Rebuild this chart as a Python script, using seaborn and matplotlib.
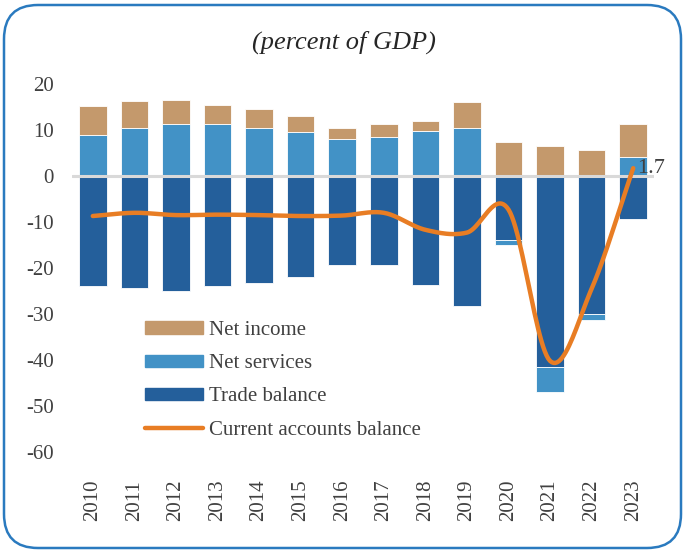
import numpy as np
import pandas as pd
import matplotlib.pyplot as plt
import seaborn as sns
from matplotlib.patches import FancyBboxPatch, Patch
from matplotlib.lines import Line2D

# values (percent of GDP)
years = ['2010', '2011', '2012', '2013', '2014', '2015', '2016',
         '2017', '2018', '2019', '2020', '2021', '2022', '2023']
trade_balance = [-24.0, -24.3, -25.1, -23.9, -23.2, -21.9, -19.3,
                 -19.3, -23.8, -28.2, -14.0, -41.6, -29.9, -9.3]
net_services = [8.9, 10.4, 11.3, 11.2, 10.4, 9.5, 8.0,
                8.5, 9.8, 10.4, -1.0, -5.3, -1.5, 4.1]
net_income = [6.3, 5.9, 5.2, 4.2, 4.1, 3.5, 2.5,
              2.7, 2.2, 5.6, 7.5, 6.5, 5.7, 7.1]
current_account = [-8.7, -8.0, -8.5, -8.4, -8.5, -8.7, -8.6,
                   -8.0, -11.7, -12.3, -7.3, -40.2, -24.5, 1.7]

c_income = '#C4996C'
c_services = '#4292C6'
c_trade = '#245F9B'
c_line = '#E87D24'
c_text = '#404040'
serif = 'Liberation Serif'


def smooth_line(xs, ys, steps=24):
    # Catmull-Rom curve through the points, like Excel's smoothed line
    x = np.asarray(xs, float)
    y = np.asarray(ys, float)
    px = np.concatenate([[2 * x[0] - x[1]], x, [2 * x[-1] - x[-2]]])
    py = np.concatenate([[2 * y[0] - y[1]], y, [2 * y[-1] - y[-2]]])
    outx, outy = [], []
    t = np.linspace(0, 1, steps, endpoint=False)
    for i in range(1, len(px) - 2):
        for p, out in ((px, outx), (py, outy)):
            p0, p1, p2, p3 = p[i - 1], p[i], p[i + 1], p[i + 2]
            out.extend(0.5 * (2 * p1 + (-p0 + p2) * t
                              + (2 * p0 - 5 * p1 + 4 * p2 - p3) * t ** 2
                              + (-p0 + 3 * p1 - 3 * p2 + p3) * t ** 3))
    outx.append(x[-1])
    outy.append(y[-1])
    return np.array(outx), np.array(outy)


sns.set_theme(style='white')
plt.rcParams['font.family'] = [serif, 'DejaVu Serif']
plt.rcParams['axes.unicode_minus'] = False

df = pd.DataFrame({'year': years, 'trade': trade_balance,
                   'services': net_services, 'income': net_income,
                   'ca': current_account})
df['services_bottom'] = np.where(df['services'] >= 0, 0, df['trade'])
df['income_bottom'] = df['services'].clip(lower=0)

fig = plt.figure(figsize=(6.85, 5.52), dpi=100)

# rounded frame around the whole figure
bg = fig.add_axes([0, 0, 1, 1])
bg.set_xlim(0, 685)
bg.set_ylim(0, 552)
bg.axis('off')
bg.add_patch(FancyBboxPatch((4, 4), 677, 543,
                            boxstyle='round,pad=0,rounding_size=34',
                            fc='white', ec='#2A7ABF', lw=1.8))

ax = fig.add_axes([72 / 685, 1 - 452 / 552, 582 / 685, 368 / 552])
ax.patch.set_alpha(0)

bar_kw = dict(width=0.66, edgecolor='white', linewidth=0.6, ax=ax)
sns.barplot(data=df, x='year', y='trade', color=c_trade, saturation=1, **bar_kw)
sns.barplot(data=df, x='year', y='services', bottom=df['services_bottom'],
            color=c_services, saturation=1, **bar_kw)
sns.barplot(data=df, x='year', y='income', bottom=df['income_bottom'],
            color=c_income, saturation=1, **bar_kw)

ax.axhline(0, color='#D9D9D9', lw=2.2, zorder=3)

sx, sy = smooth_line(range(len(years)), current_account)
sns.lineplot(x=sx, y=sy, sort=False, estimator=None, color=c_line,
             lw=3.2, ax=ax, zorder=4)
ax.text(len(years) - 1 + 0.1, current_account[-1], f'{current_account[-1]:.1f}',
        ha='left', va='center', fontsize=16, color=c_text, zorder=5)

ax.set_xlim(-0.5, len(years) - 0.5)
ax.set_ylim(-60, 20)
ax.set_yticks(range(-60, 21, 10))
ax.set_xlabel('')
ax.set_ylabel('')
sns.despine(ax=ax, left=True, bottom=True)
ax.tick_params(axis='y', length=0, pad=13, labelsize=15, labelcolor=c_text)
ax.tick_params(axis='x', length=0, pad=20, labelsize=15, labelcolor=c_text,
               labelrotation=90)

handles = [Patch(color=c_income), Patch(color=c_services),
           Patch(color=c_trade), Line2D([], [], color=c_line, lw=3.2)]
labels = ['Net income', 'Net services', 'Trade balance', 'Current accounts balance']
fig.legend(handles, labels, loc='upper left', bbox_to_anchor=(145 / 685, 1 - 321 / 552),
           frameon=False, fontsize=15, handlelength=2.8, handleheight=0.55,
           handletextpad=0.25, labelspacing=0.68, borderpad=0, borderaxespad=0,
           labelcolor=c_text)

fig.text(0.502, 1 - 42 / 552, '(percent of GDP)', ha='center', va='center',
         fontsize=19, style='italic', color='#262626')

fig.savefig('out.png', dpi=100)
